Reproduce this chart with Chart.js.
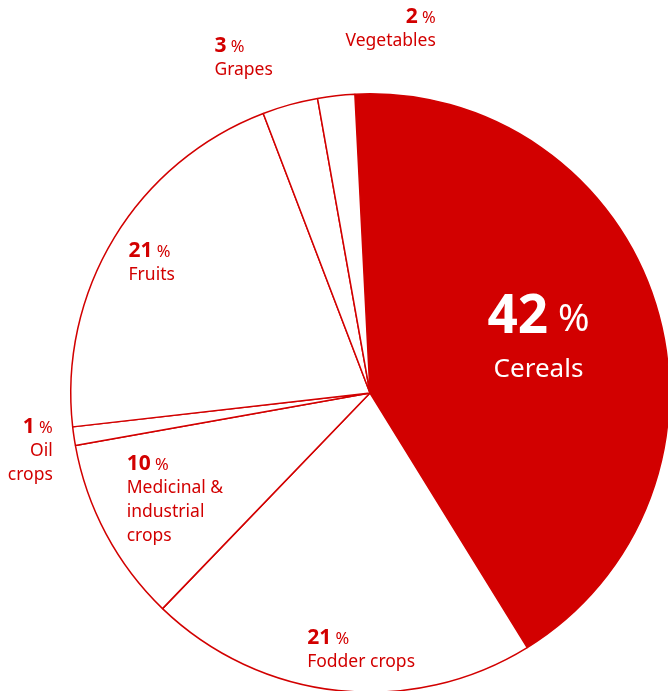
<!DOCTYPE html>
<html><head><meta charset="utf-8">
<script src="https://cdn.jsdelivr.net/npm/chart.js@4/dist/chart.umd.min.js"></script>
<style>
html,body{margin:0;padding:0;overflow:hidden;background:#fff;width:668px;height:691px}
#wrap{position:absolute;left:0;top:0;width:740px;height:786px}
</style></head><body>
<div id="wrap"><canvas id="c"></canvas></div>
<script>
const categories = ['Cereals','Fodder crops','Medicinal & industrial crops','Oil crops','Fruits','Grapes','Vegetables'];
const shares = [42, 21, 10, 1, 21, 3, 2];
const labelLines = [['Cereals'],['Fodder crops'],['Medicinal &','industrial','crops'],['Oil','crops'],['Fruits'],['Grapes'],['Vegetables']];

const RED = '#d20000';
const FONT = '"Noto Sans", "Open Sans", sans-serif';

// label anchor offsets from pie centre in units of radius, plus alignment
const labelPos = [
  {dx:0.563, dy:-0.25, align:'center', big:true},
  {dx:-0.21, dy:0.82, align:'left'},
  {dx:-0.813, dy:0.237, align:'left'},
  {dx:-1.06, dy:0.113, align:'right'},
  {dx:-0.807, dy:-0.473, align:'left'},
  {dx:-0.52, dy:-1.16, align:'left'},
  {dx:0.22, dy:-1.255, align:'right'}
];

const labelPlugin = {
  id:'labels',
  afterDatasetsDraw(chart){
    const ctx = chart.ctx;
    const arc = chart.getDatasetMeta(0).data[0];
    const cx = arc.x, cy = arc.y, r = arc.outerRadius;
    ctx.save();
    ctx.textBaseline = 'middle';
    shares.forEach((v,i)=>{
      const p = labelPos[i];
      const x = cx + p.dx*r, y = cy + p.dy*r;
      const color = p.big ? '#ffffff' : RED;
      ctx.fillStyle = color;
      const numFont = p.big ? `bold 53px ${FONT}` : `bold 21px ${FONT}`;
      const pctFont = p.big ? `38px ${FONT}` : `16.5px ${FONT}`;
      const txtFont = p.big ? `26px ${FONT}` : `17.5px ${FONT}`;
      const numStr = String(v), pctStr = ' %';
      ctx.font = numFont; const wn = ctx.measureText(numStr).width;
      ctx.font = pctFont; const wp = ctx.measureText(pctStr).width;
      const total = wn + wp;
      let x0 = p.align==='left' ? x : p.align==='right' ? x - total : x - total/2;
      ctx.textAlign='left';
      ctx.font = numFont; ctx.fillText(numStr, x0, y);
      ctx.font = pctFont; ctx.fillText(pctStr, x0 + wn, y + (p.big?2:1));
      ctx.font = txtFont; ctx.textAlign = p.align;
      const lh = p.big ? 51 : 24;
      labelLines[i].forEach((line,k)=>{
        ctx.fillText(line, x, y + lh*(k+1));
      });
    });
    ctx.restore();
  }
};

new Chart(document.getElementById('c'), {
  type:'pie',
  data:{labels:categories, datasets:[{
    data:shares,
    backgroundColor:[RED,'#fff','#fff','#fff','#fff','#fff','#fff'],
    borderColor:RED, borderWidth:1.5
  }]},
  options:{
    responsive:true, maintainAspectRatio:false, animation:false,
    rotation:-2.9,
    layout:{padding:{left:70,right:70,top:93,bottom:93}},
    plugins:{legend:{display:false}, tooltip:{enabled:false}}
  },
  plugins:[labelPlugin]
});
</script>
</body></html>
